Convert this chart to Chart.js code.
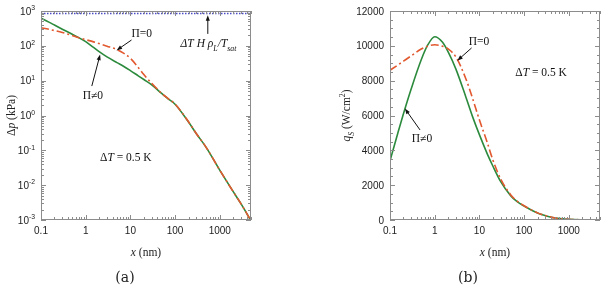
<!DOCTYPE html>
<html>
<head>
<meta charset="utf-8">
<script src="https://cdn.jsdelivr.net/npm/chart.js@4"></script>
<style>
  html, body { margin: 0; padding: 0; background: #fff; }
  #wrap { display: flex; width: 608px; height: 288px; }
  canvas { display: block; }
</style>
</head>
<body>
<div id="wrap">
  <canvas id="chart-a" width="304" height="288"></canvas>
  <canvas id="chart-b" width="304" height="288"></canvas>
</div>
<script>
// distance from the wall, nm (shared by both panels)
var xNm = [0.1, 0.15, 0.2, 0.3, 0.5, 0.7, 1, 1.5, 2, 3, 5, 7, 10, 15, 20, 30, 50, 70, 100, 200, 300, 500, 1000, 2000, 3000, 5000];

// panel (a): pressure jump, kPa
var dpPiNonZero = [620, 480, 395, 300, 215, 172, 132, 90, 68, 48, 33, 26, 19.5, 13.8, 10.8, 7.6, 4.3, 3.0, 2.1, 0.65, 0.3, 0.12, 0.027, 0.0065, 0.0029, 0.00095];
var dpPiZero = [330, 298, 275, 242, 198, 170, 150, 130, 116, 98, 78, 62, 44, 24, 15, 8.4, 4.35, 3.05, 2.12, 0.66, 0.3, 0.12, 0.027, 0.0065, 0.0029, 0.00095];
var satX = [0.1, 5000];
var satDp = [850, 850];

// panel (b): heat flux, W/cm2
var qPiNonZero = [3400, 5000, 6100, 7550, 9200, 10050, 10520, 10200, 9650, 8650, 7050, 5950, 4900, 3800, 3100, 2200, 1400, 1050, 800, 400, 250, 110, 40, 12, 5, 0];
var qPiZero = [8600, 8900, 9120, 9430, 9820, 9980, 10060, 9980, 9820, 9350, 8100, 7000, 5750, 4450, 3450, 2350, 1450, 1080, 820, 410, 255, 112, 40, 12, 5, 0];

// tick labels
var xTickLabels = ['0.1', '1', '10', '100', '1000'];
var dpTickExps = ['-3', '-2', '-1', '0', '1', '2', '3'];
var qTickLabels = ['0', '2000', '4000', '6000', '8000', '10000', '12000'];

var serif = '"Liberation Serif", "Times New Roman", serif';
var sans = '"Liberation Sans", Arial, sans-serif';
var green = '#2b8a3c';
var red = '#e2592f';
var blue = '#4b4bc6';

function pts(xs, ys) {
  return xs.map(function (x, i) { return { x: x, y: ys[i] }; });
}

function fontOf(p, size, family) {
  var sz = p.s ? size * 0.68 : size;
  return (p.i ? 'italic ' : '') + sz + 'px ' + family;
}

// draws a run of text pieces, some italic / sub / sup; y is the visual middle
function drawRich(ctx, parts, x, y, size, family, align) {
  var widths = parts.map(function (p) {
    ctx.font = fontOf(p, size, family);
    return ctx.measureText(p.t).width;
  });
  var total = widths.reduce(function (a, b) { return a + b; }, 0);
  var cx = align === 'center' ? x - total / 2 : (align === 'right' ? x - total : x);
  var base = y + size * 0.35;
  ctx.textAlign = 'left';
  ctx.textBaseline = 'alphabetic';
  parts.forEach(function (p, i) {
    ctx.font = fontOf(p, size, family);
    var by = base;
    if (p.s === 'sub') by = base + size * 0.35;
    if (p.s === 'sup') by = base - size * 0.42;
    ctx.fillText(p.t, cx, by);
    cx += widths[i];
  });
}

function arrow(ctx, x1, y1, x2, y2) {
  var ang = Math.atan2(y2 - y1, x2 - x1);
  var h = 6;
  ctx.beginPath();
  ctx.moveTo(x1, y1);
  ctx.lineTo(x2 - Math.cos(ang) * h * 0.8, y2 - Math.sin(ang) * h * 0.8);
  ctx.stroke();
  ctx.beginPath();
  ctx.moveTo(x2, y2);
  ctx.lineTo(x2 - h * Math.cos(ang - 0.35), y2 - h * Math.sin(ang - 0.35));
  ctx.lineTo(x2 - h * Math.cos(ang + 0.35), y2 - h * Math.sin(ang + 0.35));
  ctx.closePath();
  ctx.fill();
}

function logTicks(min, max) {
  var out = [];
  for (var e = Math.floor(Math.log10(min)); e <= Math.ceil(Math.log10(max)); e++) {
    for (var m = 1; m <= 9; m++) {
      var v = m * Math.pow(10, e);
      if (v >= min * 0.999 && v <= max * 1.001) out.push({ v: v, major: m === 1 });
    }
  }
  return out;
}

// frame, inward ticks, labels and notes drawn in the style of the paper
function paperFrame(cfg) {
  return {
    id: 'paperFrame',
    afterDatasetsDraw: function (chart) {
      var ctx = chart.ctx, a = chart.chartArea;
      var xs = chart.scales.x, ys = chart.scales.y;
      ctx.save();
      ctx.strokeStyle = '#8c8c8c';
      ctx.lineWidth = 1;
      ctx.strokeRect(a.left + 0.5, a.top + 0.5, a.right - a.left - 1, a.bottom - a.top - 1);
      ctx.beginPath();
      cfg.xTicks.forEach(function (t) {
        var px = Math.round(xs.getPixelForValue(t.v)) + 0.5;
        var len = t.major ? 5 : 3;
        ctx.moveTo(px, a.bottom); ctx.lineTo(px, a.bottom - len);
        ctx.moveTo(px, a.top); ctx.lineTo(px, a.top + len);
      });
      cfg.yTicks.forEach(function (t) {
        var py = Math.round(ys.getPixelForValue(t.v)) + 0.5;
        var len = t.major ? 5 : 3;
        ctx.moveTo(a.left, py); ctx.lineTo(a.left + len, py);
        ctx.moveTo(a.right, py); ctx.lineTo(a.right - len, py);
      });
      ctx.stroke();
      ctx.restore();
    },
    afterDraw: function (chart) {
      var ctx = chart.ctx, a = chart.chartArea;
      var xs = chart.scales.x, ys = chart.scales.y;
      ctx.save();
      ctx.fillStyle = '#222';
      cfg.xLabels.forEach(function (l) {
        drawRich(ctx, [{ t: l.text }], xs.getPixelForValue(l.v), a.bottom + 10, 10, sans, 'center');
      });
      cfg.yLabels.forEach(function (l) {
        drawRich(ctx, l.parts, a.left - 6, ys.getPixelForValue(l.v), 10, sans, 'right');
      });
      // axis titles
      var midX = (a.left + a.right) / 2, midY = (a.top + a.bottom) / 2;
      drawRich(ctx, [{ t: 'x', i: true }, { t: ' (nm)' }], midX, a.bottom + 32, 11.5, serif, 'center');
      ctx.save();
      ctx.translate(cfg.yTitleX, midY);
      ctx.rotate(-Math.PI / 2);
      drawRich(ctx, cfg.yTitle, 0, 0, 11.5, serif, 'center');
      ctx.restore();
      drawRich(ctx, [{ t: cfg.panel }], cfg.panelX, 277, 14, '"DejaVu Serif", serif', 'center');
      // notes and arrows
      ctx.strokeStyle = '#111';
      ctx.fillStyle = '#111';
      ctx.lineWidth = 1;
      cfg.notes.forEach(function (n) {
        if (n.from) {
          arrow(ctx, xs.getPixelForValue(n.from[0]), ys.getPixelForValue(n.from[1]),
            xs.getPixelForValue(n.to[0]), ys.getPixelForValue(n.to[1]));
        } else {
          drawRich(ctx, n.parts, xs.getPixelForValue(n.at[0]), ys.getPixelForValue(n.at[1]), 11.5, serif, 'center');
        }
      });
      ctx.restore();
    }
  };
}

var dashDot = [8, 3, 2, 3];

var baseOptions = function (padding, yScale) {
  return {
    responsive: false,
    animation: false,
    layout: { padding: padding },
    plugins: { legend: { display: false }, tooltip: { enabled: false } },
    scales: {
      x: { type: 'logarithmic', min: 0.1, max: 5000, display: false },
      y: yScale
    },
    elements: { point: { radius: 0 }, line: { cubicInterpolationMode: 'monotone' } }
  };
};

var xMajorVals = xTickLabels.map(Number);

// panel (a)
new Chart(document.getElementById('chart-a'), {
  type: 'line',
  data: {
    datasets: [
      { data: pts(xNm, dpPiZero), borderColor: red, borderWidth: 1.6, borderDash: dashDot, order: 0 },
      { data: pts(xNm, dpPiNonZero), borderColor: green, borderWidth: 1.6, order: 1 },
      { data: pts(satX, satDp), borderColor: blue, borderWidth: 1.5, borderDash: [1.5, 1.5], order: 2 }
    ]
  },
  options: baseOptions({ left: 41, right: 53, top: 11, bottom: 68 },
    { type: 'logarithmic', min: 0.001, max: 1000, display: false }),
  plugins: [paperFrame({
    xTicks: logTicks(0.1, 5000),
    yTicks: logTicks(0.001, 1000),
    xLabels: xTickLabels.map(function (t, i) { return { text: t, v: xMajorVals[i] }; }),
    yLabels: dpTickExps.map(function (e) {
      return { v: Math.pow(10, Number(e)), parts: [{ t: '10' }, { t: e, s: 'sup' }] };
    }),
    yTitleX: 11,
    yTitle: [{ t: 'Δ' }, { t: 'p', i: true }, { t: ' (kPa)' }],
    panel: '(a)',
    panelX: 125,
    notes: [
      { at: [18, 234], parts: [{ t: 'Π=0' }] },
      { from: [10.6, 147], to: [4.9, 74] },
      { at: [1.45, 3.9], parts: [{ t: 'Π≠0' }] },
      { from: [1.37, 7], to: [2.1, 56] },
      { at: [560, 118], parts: [{ t: 'ΔT H ρ', i: true }, { t: 'L', i: true, s: 'sub' }, { t: '/T', i: true }, { t: 'sat', i: true, s: 'sub' }] },
      { from: [540, 220], to: [540, 760] },
      { at: [7.9, 0.064], parts: [{ t: 'Δ' }, { t: 'T', i: true }, { t: ' = 0.5 K' }] }
    ]
  })]
});

// panel (b)
var qMajorVals = qTickLabels.map(Number);
var qTicks = [];
for (var v = 0; v <= 12000; v += 500) qTicks.push({ v: v, major: v % 2000 === 0 });

new Chart(document.getElementById('chart-b'), {
  type: 'line',
  data: {
    datasets: [
      { data: pts(xNm, qPiZero), borderColor: red, borderWidth: 1.6, borderDash: dashDot, order: 0 },
      { data: pts(xNm, qPiNonZero), borderColor: green, borderWidth: 1.6, order: 1 }
    ]
  },
  options: baseOptions({ left: 86, right: 8, top: 11, bottom: 68 },
    { type: 'linear', min: 0, max: 12000, display: false }),
  plugins: [paperFrame({
    xTicks: logTicks(0.1, 5000),
    yTicks: qTicks,
    xLabels: xTickLabels.map(function (t, i) { return { text: t, v: xMajorVals[i] }; }),
    yLabels: qTickLabels.map(function (t, i) { return { v: qMajorVals[i], parts: [{ t: t }] }; }),
    yTitleX: 42,
    yTitle: [{ t: 'q', i: true }, { t: 'S', i: true, s: 'sub' }, { t: ' (W/cm' }, { t: '2', s: 'sup' }, { t: ')' }],
    panel: '(b)',
    panelX: 164,
    notes: [
      { at: [9.8, 10280], parts: [{ t: 'Π=0' }] },
      { from: [6.7, 9880], to: [3.2, 9150] },
      { at: [240, 8500], parts: [{ t: 'Δ' }, { t: 'T', i: true }, { t: ' = 0.5 K' }] },
      { at: [0.52, 4700], parts: [{ t: 'Π≠0' }] },
      { from: [0.47, 5170], to: [0.215, 6400] }
    ]
  })]
});
</script>
</body>
</html>
